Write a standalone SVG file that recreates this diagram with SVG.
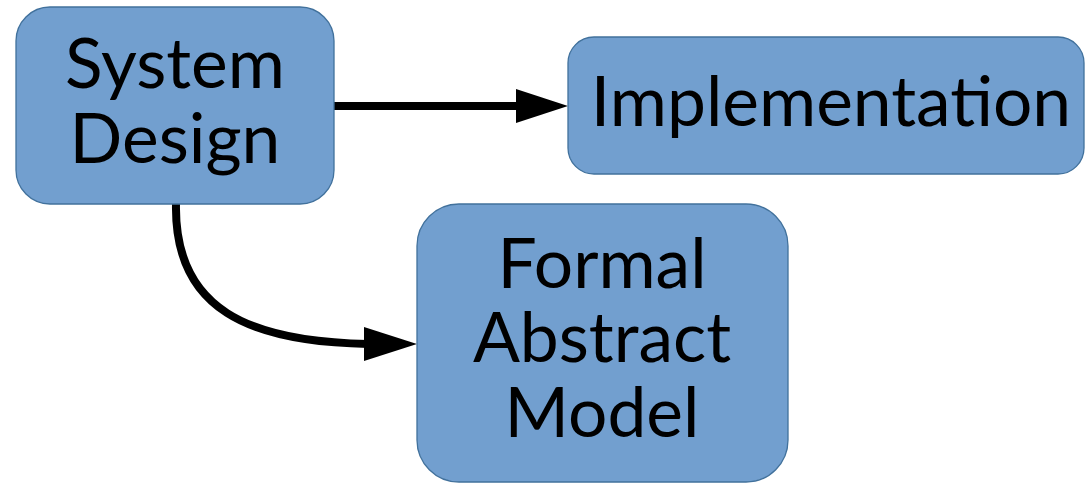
<svg xmlns="http://www.w3.org/2000/svg" width="1085" height="483" viewBox="0 0 1085 483">
  <style>
    .box { fill: #729fcf; stroke: #41719c; stroke-width: 1.3; }
    .label { font-family: Lato, "Noto Sans", sans-serif; font-size: 69.5px; fill: #000; text-anchor: middle; }
    .edge { fill: none; stroke: #000; stroke-width: 8; }
    .head { fill: #000; }
  </style>
  <rect width="1085" height="483" fill="#fff"/>
  <g id="connectors">
    <path class="edge" d="M334,106 L520,106"/>
    <polygon class="head" points="516,89 568,106 516,123"/>
    <path class="edge" d="M176,204 C174,310 250,342 368,344"/>
    <polygon class="head" points="364,327 417,344 364,361"/>
  </g>
  <g id="system-design">
    <rect class="box" x="16" y="7" width="318" height="197" rx="34"/>
    <text class="label" x="175" y="88">System</text>
    <text class="label" x="175" y="163">Design</text>
  </g>
  <g id="implementation">
    <rect class="box" x="568" y="37" width="516" height="137" rx="26"/>
    <text class="label" x="831" y="126">Implementation</text>
  </g>
  <g id="formal-abstract-model">
    <rect class="box" x="417" y="204" width="371" height="278" rx="42"/>
    <text class="label" x="602" y="288">Formal</text>
    <text class="label" x="602" y="362">Abstract</text>
    <text class="label" x="602" y="437">Model</text>
  </g>
</svg>
